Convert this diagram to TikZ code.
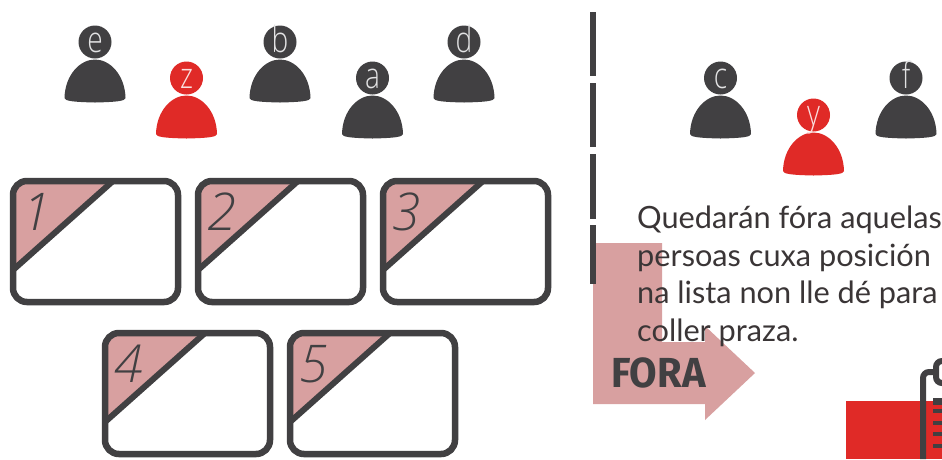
\documentclass[tikz,border=0pt]{standalone}
\usepackage{fontspec}
\setmainfont{Lato}
\newfontfamily\bodyfont{Lato}
\newfontfamily\forafont{Fira Sans}[FakeStretch=0.95]
\newfontfamily\markfont{Open Sans Light}[FakeStretch=0.78]
\newfontfamily\numfont{Open Sans Light}
\definecolor{ink}{HTML}{414042}
\definecolor{redp}{HTML}{E02A27}
\definecolor{pale}{HTML}{D8A0A0}
\definecolor{txt}{HTML}{3A3536}
\tikzset{
  seat/.style={draw=ink,line width=6.5pt,rounded corners=14pt},
  headtext/.style={text=#1,font=\markfont\fontsize{36}{36}\selectfont,inner sep=0pt,anchor=base},
  numtext/.style={text=ink,font=\numfont\itshape\fontsize{52}{52}\selectfont,inner sep=0pt,anchor=center},
  textline/.style={text=txt,font=\bodyfont\fontsize{30.7}{30.7}\selectfont,inner sep=0pt,anchor=base west},
  vbar/.style={fill=ink},
  clipline/.style={draw=ink,line width=6pt,rounded corners=6pt}
}
\newcommand{\person}[5]{%
  \fill[#3] (#1,#2) circle (16.5);
  \fill[#3] (#1-30.5,#2+56) .. controls (#1-30,#2+33) and (#1-15,#2+17.5) .. (#1,#2+17.5)
    .. controls (#1+15,#2+17.5) and (#1+30,#2+33) .. (#1+30.5,#2+56)
    .. controls (#1+30,#2+59) and (#1+22,#2+60) .. (#1,#2+60.5)
    .. controls (#1-22,#2+60) and (#1-30,#2+59) .. (#1-30.5,#2+56) -- cycle;
  \node[headtext=#4] (p#5) at (#1,#2+10) {#5};
}
\newcommand{\seatbox}[3]{%
  \fill[pale,rounded corners=12pt] (#1+3,#2+92) -- (#1+3,#2+3) -- (#1+60,#2+3) [sharp corners] -- (#1+102,#2+3) -- cycle;
  \draw[ink,line width=6pt] (#1+103,#2+3) -- (#1+3,#2+92);
  \draw[seat] (#1+3,#2+3) rectangle (#1+168,#2+124);
  \node[numtext] (n#3) at (#1+27,#2+34) {#3};
}
\begin{document}
\begin{tikzpicture}[x=1pt,y=-1pt]
\useasboundingbox (0,0) rectangle (942,459);
\fill[white] (0,0) rectangle (942,459);
\fill[pale] (593,243) -- (662,243) -- (662,342) -- (705,342) -- (705,326) -- (755,373) -- (705,420) -- (705,404) -- (593,404) -- cycle;
\fill[vbar] (589.5,12) rectangle (595.5,76);
\fill[vbar] (589.5,83) rectangle (595.5,147);
\fill[vbar] (589.5,154) rectangle (595.5,219);
\fill[vbar] (589.5,225) rectangle (595.5,284);
\person{95}{42}{ink}{white!85!ink}{e}
\person{186.5}{78}{redp}{white!85!redp}{z}
\person{280}{42}{ink}{white!85!ink}{b}
\person{372.5}{78}{ink}{white!85!ink}{a}
\person{464}{42}{ink}{white!85!ink}{d}
\person{720.5}{78}{ink}{white!85!ink}{c}
\person{813.5}{115}{redp}{white!85!redp}{y}
\person{906}{78}{ink}{white!85!ink}{f}
\seatbox{10}{178}{1}
\seatbox{195}{178}{2}
\seatbox{380}{178}{3}
\seatbox{102}{330}{4}
\seatbox{287}{330}{5}
\node[textline] (t1) at (637,228) {Quedarán fóra aquelas};
\node[textline] (t2) at (637,266.5) {persoas cuxa posición};
\node[textline] (t3) at (637,303.5) {na lista non lle dé para};
\node[textline] (t4) at (637,341) {coller praza.};
\node[text=ink,font=\forafont\bfseries\fontsize{42}{42}\selectfont,inner sep=0pt,anchor=base west] (fora) at (611,387) {FORA};
\fill[redp] (846,401) rectangle (942,459);
\draw[clipline] (923,459) -- (923,372) -- (938,372);
\draw[clipline] (944,361) -- (936,361) -- (936,383) -- (944,383);
\fill[ink] (933,398) rectangle (942,405);
\foreach \yy in {411,423,434,446} \fill[ink] (933,\yy-2) rectangle (942,\yy+2);
\end{tikzpicture}
\end{document}
